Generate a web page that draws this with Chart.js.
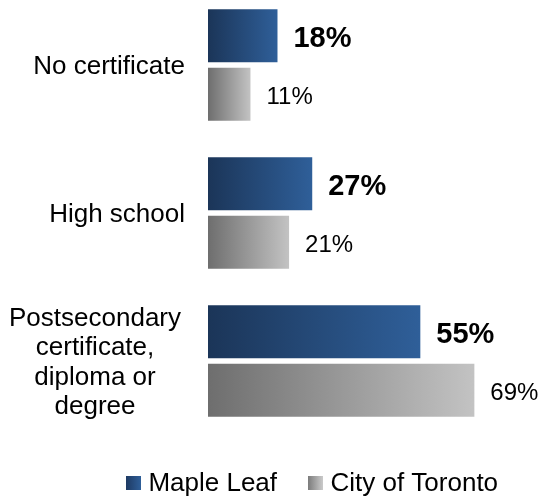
<!DOCTYPE html>
<html>
<head>
<meta charset="utf-8">
<script src="https://cdn.jsdelivr.net/npm/chart.js@4/dist/chart.umd.min.js"></script>
<style>
  html, body { margin: 0; padding: 0; background: #ffffff; overflow: hidden; width: 540px; height: 497px; }
  #wrap { position: absolute; left: 0; top: -9px; width: 540px; height: 516px; }
</style>
</head>
<body>
<div id="wrap"><canvas id="c"></canvas></div>
<script>
const categories = ['No certificate', 'High school', ['Postsecondary', 'certificate,', 'diploma or', 'degree']];
const seriesNames = ['Maple Leaf', 'City of Toronto'];
const mapleLeaf = [18, 27, 55];
const cityOfToronto = [11, 21, 69];

const FONT = '"Liberation Sans", Arial, Helvetica, sans-serif';
const blueStops = ['#1b3558', '#2f5f99'];
const grayStops = ['#6e6e6e', '#c3c3c3'];

function barGradient(stops) {
  return function (ctx) {
    const chart = ctx.chart;
    if (!chart.chartArea || ctx.type !== 'data') return stops[1];
    const xs = chart.scales.x;
    const x0 = xs.getPixelForValue(0);
    const x1 = xs.getPixelForValue(ctx.raw);
    const g = chart.ctx.createLinearGradient(x0, 0, x1, 0);
    g.addColorStop(0, stops[0]);
    g.addColorStop(1, stops[1]);
    return g;
  };
}

function legendSwatch(stops) {
  const cv = document.createElement('canvas');
  cv.width = 15; cv.height = 16;
  const c = cv.getContext('2d');
  const g = c.createLinearGradient(0, 0, 15, 0);
  g.addColorStop(0, stops[0]);
  g.addColorStop(1, stops[1]);
  c.fillStyle = g;
  c.fillRect(0, 0, 15, 14);
  return cv;
}
const swatches = [legendSwatch(['#1e3a62', '#2f5f99']), legendSwatch(['#7a7a7a', '#cacaca'])];

const categoryLabels = {
  id: 'categoryLabels',
  afterDraw(chart) {
    const ctx = chart.ctx;
    const ys = chart.scales.y;
    const rightX = 185;
    const lh = 29.5;
    ctx.save();
    ctx.font = '26px ' + FONT;
    ctx.fillStyle = '#000000';
    ctx.textBaseline = 'middle';
    categories.forEach((lab, i) => {
      const cy = ys.getPixelForValue(i) + 2;
      const lines = Array.isArray(lab) ? lab : [lab];
      if (lines.length === 1) {
        ctx.textAlign = 'right';
        ctx.fillText(lines[0], rightX, cy);
      } else {
        const widest = Math.max(...lines.map(l => ctx.measureText(l).width));
        const cx = rightX - 4 - widest / 2;
        ctx.textAlign = 'center';
        const top = cy - (lines.length - 1) * lh / 2;
        lines.forEach((l, k) => ctx.fillText(l, cx, top + k * lh));
      }
    });
    ctx.restore();
  }
};

const valueLabels = {
  id: 'valueLabels',
  afterDatasetsDraw(chart) {
    const ctx = chart.ctx;
    ctx.save();
    ctx.fillStyle = '#000000';
    ctx.textAlign = 'left';
    ctx.textBaseline = 'middle';
    chart.data.datasets.forEach((ds, di) => {
      const meta = chart.getDatasetMeta(di);
      ctx.font = di === 0 ? 'bold 29px ' + FONT : '24px ' + FONT;
      meta.data.forEach((el, i) => {
        ctx.fillText(ds.data[i] + '%', el.x + 16, el.y + 3);
      });
    });
    ctx.restore();
  }
};

new Chart(document.getElementById('c'), {
  type: 'bar',
  data: {
    labels: categories,
    datasets: [
      { label: seriesNames[0], data: mapleLeaf, backgroundColor: barGradient(blueStops), borderWidth: 0 },
      { label: seriesNames[1], data: cityOfToronto, backgroundColor: barGradient(grayStops), borderWidth: 0 }
    ]
  },
  options: {
    indexAxis: 'y',
    responsive: true,
    maintainAspectRatio: false,
    animation: false,
    events: [],
    layout: { padding: { top: 0, right: 0, bottom: 0, left: 95 } },
    datasets: { bar: { categoryPercentage: 0.79, barPercentage: 0.91 } },
    scales: {
      x: { display: false, min: 0, max: 86 },
      y: {
        grid: { display: false },
        border: { display: false },
        ticks: { display: false },
        afterFit(scale) { scale.width = 113; }
      }
    },
    plugins: {
      tooltip: { enabled: false },
      legend: {
        position: 'bottom',
        align: 'start',
        labels: {
          usePointStyle: true,
          pointStyleWidth: 4.4,
          padding: 36,
          color: '#000000',
          font: { family: FONT, size: 26 },
          generateLabels(chart) {
            return chart.data.datasets.map((ds, i) => ({
              text: ds.label,
              pointStyle: swatches[i],
              fillStyle: 'transparent',
              strokeStyle: 'transparent',
              lineWidth: 0,
              fontColor: '#000000',
              hidden: false,
              datasetIndex: i
            }));
          }
        }
      }
    }
  },
  plugins: [categoryLabels, valueLabels]
});
</script>
</body>
</html>
